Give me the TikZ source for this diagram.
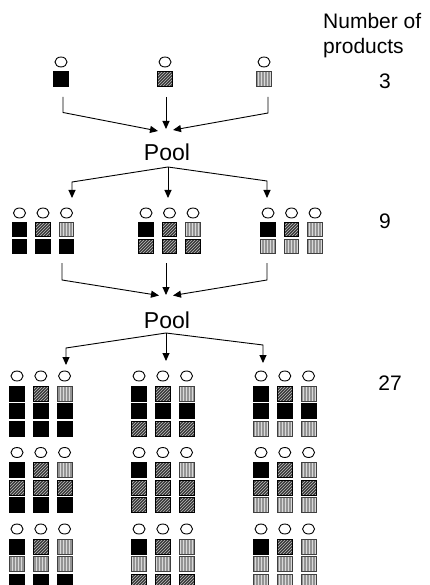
\documentclass[tikz,border=0pt]{standalone}
\usepackage{fontspec}
\setmainfont{Liberation Sans}
\usetikzlibrary{arrows.meta,patterns,shapes.geometric}
\tikzset{
 sqbase/.style={rectangle,minimum width=15pt,minimum height=15pt,inner sep=0pt,line width=0.8pt},
 sqkindb/.style={sqbase,draw=black,fill=black},
 sqkindh/.style={sqbase,draw=black,preaction={fill=black!78},pattern=north east lines,pattern color=white!75!black},
 sqkinds/.style={sqbase,draw=black!75,preaction={fill=black!42},pattern=vertical lines,pattern color=white!85!black},
 sqkind/.style={sqkind#1},
 small/.style={minimum width=14.5pt,minimum height=14.5pt},
 ring/.style={ellipse,draw=black,line width=0.9pt,minimum width=12pt,minimum height=10pt,inner sep=0pt},
 conn/.style={line width=0.9pt,-{Triangle[length=8pt,width=7pt]}},
 lbl/.style={font=\fontsize{21}{25}\selectfont,inner sep=0pt},
 pool/.style={font=\fontsize{23}{28}\selectfont,inner sep=0pt}
}
\begin{document}
\begin{tikzpicture}[x=1pt,y=-1pt]
\path[use as bounding box] (0,0) rectangle (429,585);
% header and counts
\node[lbl,anchor=north west,align=left] (hdr) at (323,13) {Number of\\products};
\node[lbl] (c3) at (385,81) {3};
\node[lbl] (c9) at (385,221) {9};
\node[lbl] (c27) at (390,383) {27};
% level 1
\foreach \t/\x [count=\i] in {b/61,h/165,s/264}{
  \node[ring] (t\i) at (\x,62) {};
  \node[sqkind/.expanded=\t,small] (T\i) at (\x,79) {};
}
% pool 1
\node[pool] (P1) at (167,152) {Pool};
\coordinate (a1) at (63,97);  \coordinate (a1b) at (63,112.5); \coordinate (p1l) at (158,131);
\coordinate (a2) at (166,97); \coordinate (p1c) at (166,129);
\coordinate (a3) at (268,97); \coordinate (a3b) at (268,113);  \coordinate (p1r) at (173,130);
\draw[conn] (a1) -- (a1b) -- (p1l);
\draw[conn] (a2) -- (p1c);
\draw[conn] (a3) -- (a3b) -- (p1r);
\coordinate (j1) at (168,167);
\coordinate (b1b) at (72,182);  \coordinate (b1) at (72,198);
\coordinate (b2) at (168,198);
\coordinate (b3b) at (267,181); \coordinate (b3) at (267,198);
\draw[conn] (j1) -- (b1b) -- (b1);
\draw[conn] (j1) -- (b2);
\draw[conn] (j1) -- (b3b) -- (b3);
% level 2
\foreach \g/\gx [count=\gi] in {b/19.5,h/146,s/268}{
  \foreach \t [count=\ci] in {b,h,s}{
    \pgfmathsetmacro\cx{\gx+23.5*(\ci-1)}
    \node[ring] (m\gi\ci) at (\cx,213) {};
    \node[sqkind/.expanded=\t,small] (m\gi\ci a) at (\cx,229.5) {};
    \node[sqkind/.expanded=\g,small] (m\gi\ci b) at (\cx,246.5) {};
  }
}
% pool 2
\node[pool] (P2) at (167,320) {Pool};
\coordinate (d1) at (62,263);  \coordinate (d1b) at (62,280); \coordinate (p2l) at (159,295.5);
\coordinate (d2) at (166,263); \coordinate (p2c) at (166,295);
\coordinate (d3) at (267,263); \coordinate (d3b) at (267,280); \coordinate (p2r) at (173,295.5);
\draw[conn] (d1) -- (d1b) -- (p2l);
\draw[conn] (d2) -- (p2c);
\draw[conn] (d3) -- (d3b) -- (p2r);
\coordinate (j2) at (166,333);
\coordinate (e1b) at (66,348);  \coordinate (e1) at (66,365);
\coordinate (e2) at (166,361);
\coordinate (e3b) at (263,345); \coordinate (e3) at (263,363);
\draw[conn] (j2) -- (e1b) -- (e1);
\draw[conn] (j2) -- (e2);
\draw[conn] (j2) -- (e3b) -- (e3);
% level 3
\foreach \g [count=\gi] in {b,h,s}{
  \foreach \k/\ky [count=\ki] in {b/376,h/452.5,s/529}{
    \foreach \t [count=\ci] in {b,h,s}{
      \pgfmathsetmacro\cx{17+122*(\gi-1)+23.8*(\ci-1)}
      \node[ring] (n\gi\ki\ci) at (\cx,\ky) {};
      \node[sqkind/.expanded=\t] (n\gi\ki\ci a) at (\cx,\ky+17.5) {};
      \node[sqkind/.expanded=\k] (n\gi\ki\ci b) at (\cx,\ky+35) {};
      \node[sqkind/.expanded=\g] (n\gi\ki\ci c) at (\cx,\ky+52.5) {};
    }
  }
}
\end{tikzpicture}
\end{document}
